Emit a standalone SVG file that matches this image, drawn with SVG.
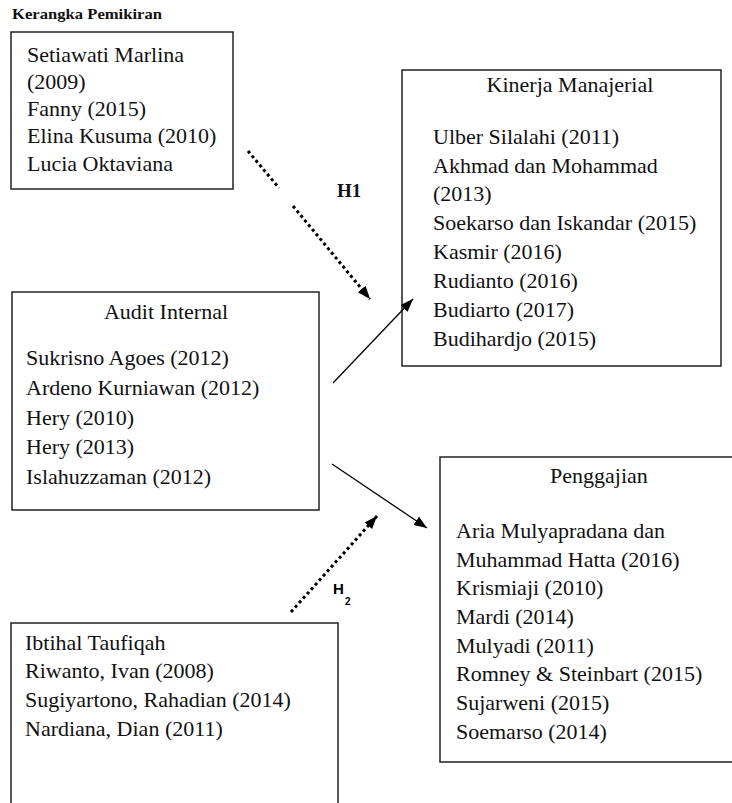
<svg xmlns="http://www.w3.org/2000/svg" width="732" height="803" viewBox="0 0 732 803">
<style>
.box{fill:none;stroke:#222;stroke-width:1.5}
.t{font-family:"Liberation Serif","Times New Roman",serif;font-size:22px;fill:#111}
.c{text-anchor:middle}
.dot{fill:none;stroke:#000;stroke-width:3;stroke-dasharray:3 3}
.sol{fill:none;stroke:#000;stroke-width:1.3}
</style>
<defs>
<marker id="ah" markerUnits="userSpaceOnUse" markerWidth="14" markerHeight="12" refX="13" refY="5" orient="auto">
<path d="M0,0 L13,5 L0,10 z" fill="#000"/>
</marker>
</defs>
<rect width="732" height="803" fill="#fff"/>
<text x="12" y="19" font-family="Liberation Serif, serif" font-weight="bold" font-size="14" fill="#111" textLength="150" lengthAdjust="spacingAndGlyphs">Kerangka Pemikiran</text>

<g id="node-referensi-1">
<rect class="box" x="11" y="32" width="222" height="157"/>
<text class="t" x="27" y="62">Setiawati Marlina</text>
<text class="t" x="27" y="89">(2009)</text>
<text class="t" x="27" y="116">Fanny (2015)</text>
<text class="t" x="27" y="143">Elina Kusuma (2010)</text>
<text class="t" x="27" y="171">Lucia Oktaviana</text>
</g>

<g id="node-kinerja">
<rect class="box" x="402" y="70" width="319" height="296"/>
<text class="t c" x="570" y="92">Kinerja Manajerial</text>
<text class="t" x="433" y="144">Ulber Silalahi (2011)</text>
<text class="t" x="433" y="173">Akhmad dan Mohammad</text>
<text class="t" x="433" y="201">(2013)</text>
<text class="t" x="433" y="230">Soekarso dan Iskandar (2015)</text>
<text class="t" x="433" y="259">Kasmir (2016)</text>
<text class="t" x="433" y="288">Rudianto (2016)</text>
<text class="t" x="433" y="317">Budiarto (2017)</text>
<text class="t" x="433" y="346">Budihardjo (2015)</text>
</g>

<g id="node-audit">
<rect class="box" x="12" y="292" width="307" height="218"/>
<text class="t c" x="166" y="319">Audit Internal</text>
<text class="t" x="26" y="365">Sukrisno Agoes (2012)</text>
<text class="t" x="26" y="395">Ardeno Kurniawan (2012)</text>
<text class="t" x="26" y="425">Hery (2010)</text>
<text class="t" x="26" y="454">Hery (2013)</text>
<text class="t" x="26" y="484">Islahuzzaman (2012)</text>
</g>

<g id="node-penggajian">
<rect class="box" x="440" y="457" width="300" height="305"/>
<text class="t c" x="599" y="483">Penggajian</text>
<text class="t" x="456" y="538">Aria Mulyapradana dan</text>
<text class="t" x="456" y="567">Muhammad Hatta (2016)</text>
<text class="t" x="456" y="595">Krismiaji (2010)</text>
<text class="t" x="456" y="624">Mardi (2014)</text>
<text class="t" x="456" y="653">Mulyadi (2011)</text>
<text class="t" x="456" y="681">Romney &amp; Steinbart (2015)</text>
<text class="t" x="456" y="710">Sujarweni (2015)</text>
<text class="t" x="456" y="739">Soemarso (2014)</text>
</g>

<g id="node-referensi-2">
<path class="box" d="M11,810 L11,623 L338,623 L338,810"/>
<text class="t" x="25" y="650">Ibtihal Taufiqah</text>
<text class="t" x="25" y="678">Riwanto, Ivan (2008)</text>
<text class="t" x="25" y="707">Sugiyartono, Rahadian (2014)</text>
<text class="t" x="25" y="736">Nardiana, Dian (2011)</text>
</g>

<g id="connectors">
<line class="dot" x1="248" y1="151" x2="279" y2="188"/>
<line class="dot" x1="293" y1="206" x2="370" y2="299" marker-end="url(#ah)"/>
<line class="sol" x1="333" y1="383" x2="413" y2="299" marker-end="url(#ah)"/>
<line class="sol" x1="332" y1="464" x2="427" y2="528" marker-end="url(#ah)"/>
<line class="dot" x1="291" y1="612" x2="377" y2="516" marker-end="url(#ah)"/>
<text x="337" y="197" font-family="Liberation Serif, serif" font-weight="bold" font-size="19" fill="#111">H1</text>
<text x="333" y="594" font-family="Liberation Sans, Arial, sans-serif" font-weight="bold" font-size="15" fill="#000">H</text>
<text x="345" y="605" font-family="Liberation Sans, Arial, sans-serif" font-weight="bold" font-size="10" fill="#000">2</text>
</g>
</svg>
